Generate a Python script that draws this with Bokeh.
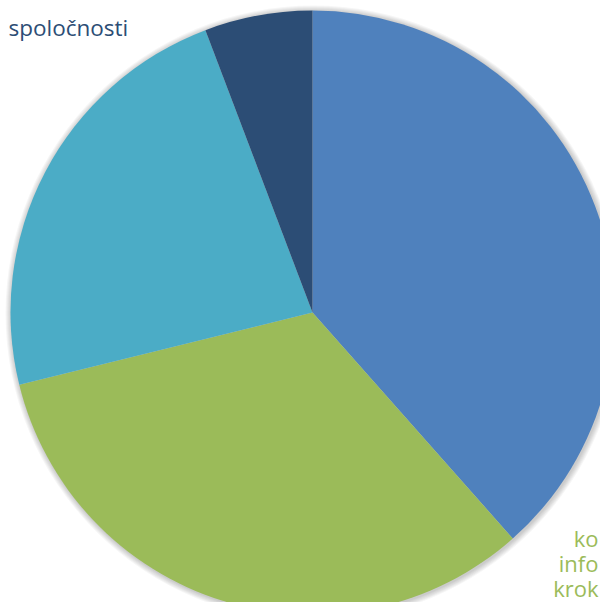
import math
from bokeh.plotting import figure
from bokeh.models import Range1d, ColumnDataSource
from bokeh.core.properties import value
from bokeh.embed import file_html
from bokeh.resources import INLINE

# ---- data ----
categories = ["modrá", "zelená", "tyrkysová", "tmavomodrá"]
counts = [20, 17, 12, 3]
colors = ["#4F81BD", "#9BBB59", "#4BACC6", "#2C4D75"]
navy_label_lines = ["spoločnosti"]
green_label_lines = ["ko", "info", "krok"]

# ---- layout ----
W, H = 600, 602
cx, cy, R = 312, -312, 302

p = figure(width=W, height=H, output_backend="svg", toolbar_location=None,
           x_range=Range1d(0, W), y_range=Range1d(-H, 0),
           x_axis_location=None, y_axis_location=None, min_border=0,
           background_fill_color="white", border_fill_color="white")
p.outline_line_color = None
p.xgrid.visible = False
p.ygrid.visible = False

# soft shadow
for k in range(1, 7):
    p.circle(x=[cx + 1], y=[cy - 1], radius=R + k, fill_color="#000000",
             fill_alpha=0.035, line_color=None)

total = sum(counts)
starts, ends = [], []
acc = 0
for c in counts:
    starts.append(math.pi / 2 - 2 * math.pi * acc / total)
    acc += c
    ends.append(math.pi / 2 - 2 * math.pi * acc / total)

src = ColumnDataSource(dict(cat=categories, start=starts, end=ends, color=colors,
                            x=[cx] * 4, y=[cy] * 4))
p.wedge(x="x", y="y", radius=R, start_angle="start", end_angle="end",
        direction="clock", fill_color="color", line_color=None, source=src)

# labels
p.text(x=[8], y=[-27], text=navy_label_lines, text_font=value("Open Sans"),
       text_font_size="22.5px", text_color="#2C4D75", text_baseline="alphabetic",
       text_align="left")
p.text(x=[598, 598, 598], y=[-537, -562, -587], text=green_label_lines,
       text_font=value("Open Sans"), text_font_size="22px", text_color="#9BBB59",
       text_baseline="alphabetic", text_align="right")

open("out.html", "w").write(file_html(p, INLINE))
